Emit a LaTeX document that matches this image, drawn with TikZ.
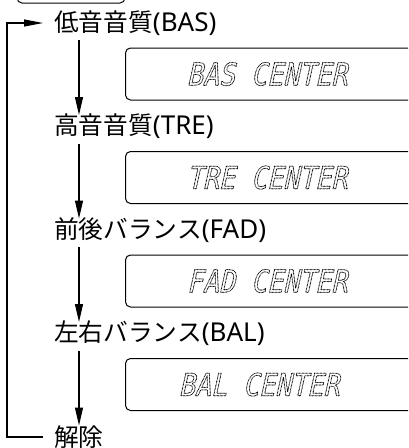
\documentclass[tikz,border=0pt]{standalone}
\usepackage{fontspec}
\setmainfont{Noto Sans}
\newfontfamily\jp[Scale=0.95]{Noto Sans CJK JP}
\newfontfamily\lcdfont[FakeSlant=0.22,FakeStretch=0.86]{DejaVu Sans Mono}
\usetikzlibrary{arrows.meta,calc}

% dotted outline letters for the display
\newcommand{\lcddots}[1]{\special{pdf:literal direct 1 Tr 1.1 w 1 J 1 j [0 1.4] 0 d}#1\special{pdf:literal direct 0 Tr [] 0 d}}

\tikzset{
    menu/.style={anchor=west, inner xsep=11pt, inner ysep=0pt,
        font=\fontsize{26}{31}\selectfont},
    display/.style={draw, rounded corners=5pt, line width=1pt, anchor=west,
        minimum width=300pt, minimum height=52pt},
    lcd/.style={inner sep=0pt, font=\lcdfont\fontsize{31}{31}\selectfont},
    flow/.style={line width=1.1pt, -{Triangle[length=18pt,width=8pt]}},
}

\begin{document}
\begin{tikzpicture}[x=1pt, y=-1pt]

    \useasboundingbox (0,0) rectangle (408,448);
    \clip (0,0) rectangle (408,448);

    % display above (cut off)
    \draw[line width=1pt, rounded corners=5pt] (17,-50) rectangle (125,3);

    % menu items
    \node[menu] (bas) at (43,23) {{\jp 低音音質}(BAS)};
    \node[menu] (tre) at (43,126.5) {{\jp 高音音質}(TRE)};
    \node[menu] (fad) at (43,230) {{\jp 前後バランス}(FAD)};
    \node[menu] (bal) at (43,333.5) {{\jp 左右バランス}(BAL)};
    \node[menu] (off) at (43,437) {{\jp 解除}};

    % displays
    \foreach \name/\y/\txt in {
        bas/74/BAS CENTER,
        tre/177.5/TRE CENTER,
        fad/281/FAD CENTER,
        bal/384.5/BAL CENTER
    }{
        \node[display] (\name box) at (125,\y) {};
        \node[lcd] (\name lcd) at (267,\y) {\lcddots{\txt}};
    }

    % steps
    \foreach \a/\b in {bas/tre, tre/fad, fad/bal, bal/off}{
        \draw[flow] ($(\a.west)+(36,17)$) -- ($(\b.west)+(36,-11.5)$);
    }

    % back to the top
    \coordinate (corner) at (7,23);
    \draw[line width=1.1pt, -{Triangle[length=19pt,width=7pt]}]
        (off.west) -| (corner) -- (bas.west);
\end{tikzpicture}
\end{document}
